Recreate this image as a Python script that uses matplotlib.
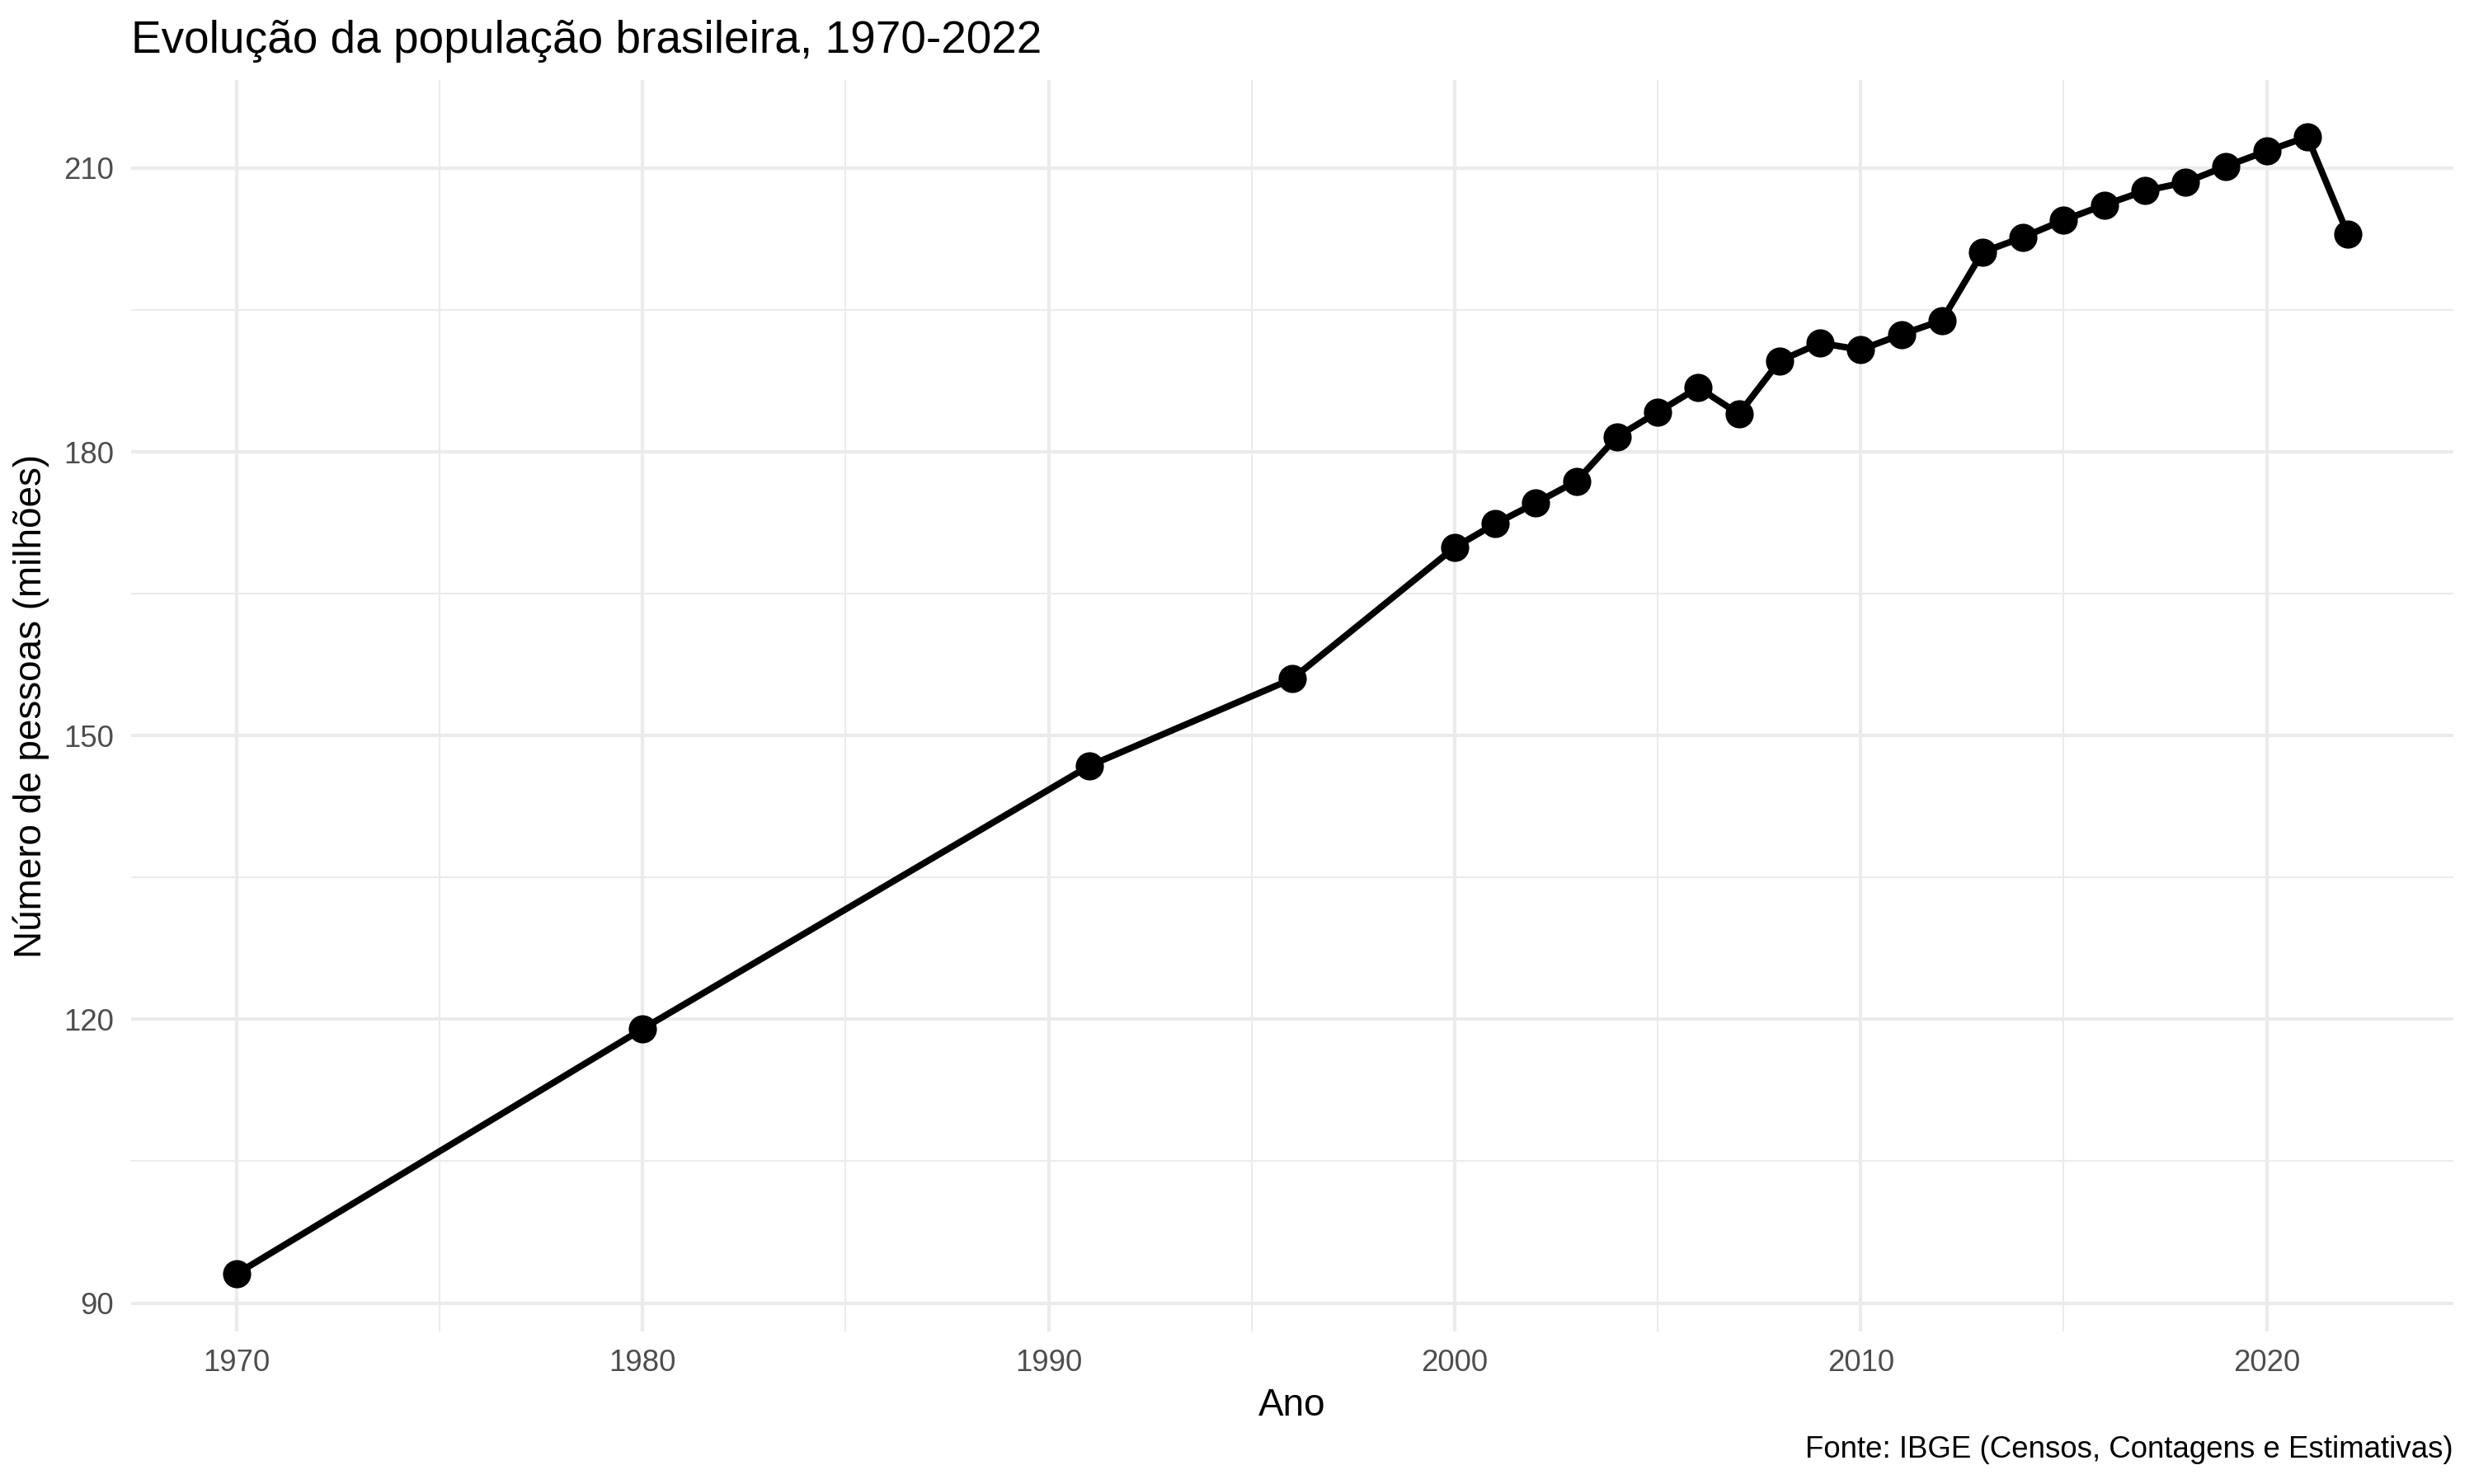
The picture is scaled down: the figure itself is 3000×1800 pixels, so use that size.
import matplotlib
matplotlib.use("Agg")
import matplotlib.pyplot as plt
from matplotlib.ticker import MultipleLocator

plt.rcParams["font.family"] = ["Liberation Sans", "DejaVu Sans"]

# dados (milhões de pessoas)
anos = [1970, 1980, 1991, 1996, 2000, 2001, 2002, 2003, 2004, 2005, 2006, 2007,
        2008, 2009, 2010, 2011, 2012, 2013, 2014, 2015, 2016, 2017, 2018, 2019,
        2020, 2021, 2022]
populacao = [93.1, 119.0, 146.8, 156.0, 169.9, 172.4, 174.6, 176.9, 181.6, 184.2,
             186.8, 184.0, 189.6, 191.5, 190.8, 192.4, 193.9, 201.1, 202.7, 204.5,
             206.1, 207.6, 208.5, 210.2, 211.8, 213.3, 203.0]

titulo = "Evolução da população brasileira, 1970-2022"
legenda_fonte = "Fonte: IBGE (Censos, Contagens e Estimativas)"

fig = plt.figure(figsize=(10, 6), dpi=300)
ax = fig.add_axes([0.053, 0.1028, 0.9387, 0.8432])

ax.plot(anos, populacao, color="black", lw=1.9, zorder=3, solid_capstyle="butt")
ax.plot(anos, populacao, "o", color="black", markersize=7.2, zorder=4)

ax.set_xlim(1967.4, 2024.6)
ax.set_ylim(87.0, 219.3)
ax.xaxis.set_major_locator(MultipleLocator(10))
ax.xaxis.set_minor_locator(MultipleLocator(5))
ax.yaxis.set_major_locator(MultipleLocator(30))
ax.yaxis.set_minor_locator(MultipleLocator(15))

ax.grid(which="major", color="#EBEBEB", lw=1.0)
ax.grid(which="minor", color="#EBEBEB", lw=0.5)
ax.set_axisbelow(True)
for s in ax.spines.values():
    s.set_visible(False)
ax.tick_params(which="both", length=0)
ax.tick_params(axis="x", labelsize=8.8, labelcolor="#4D4D4D", pad=5)
ax.tick_params(axis="y", labelsize=8.8, labelcolor="#4D4D4D", pad=5)

ax.set_xlabel("Ano", fontsize=11, labelpad=3)
ax.set_ylabel("Número de pessoas (milhões)", fontsize=11, labelpad=4)
ax.set_title(titulo, loc="left", fontsize=13.2, pad=8)
fig.text(0.9917, 0.0178, legenda_fonte, ha="right", va="baseline", fontsize=8.8)

fig.savefig("out.png", dpi=300, facecolor="white")
